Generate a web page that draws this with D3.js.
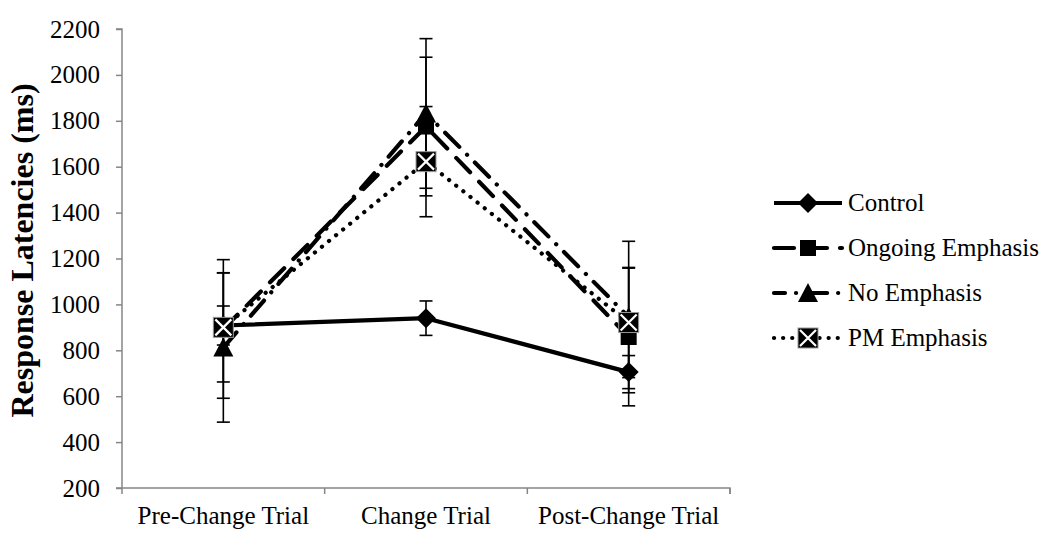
<!DOCTYPE html>
<html>
<head>
<meta charset="UTF-8">
<title>response latencies</title>
<script src="https://cdn.jsdelivr.net/npm/d3@7"></script>
<style>
  body { margin: 0; background: #fff; }
  text { font-family: "Liberation Serif", "Times New Roman", serif; }
</style>
</head>
<body>
<div id="chart"></div>
<script>
const categories = ["Pre-Change Trial", "Change Trial", "Post-Change Trial"];
const seriesNames = ["Control", "Ongoing Emphasis", "No Emphasis", "PM Emphasis"];
const control = [908, 940, 705];
const controlErr = [85, 75, 72];
const ongoing = [893, 1775, 858];
const ongoingErr = [302, 302, 300];
const noEmphasis = [812, 1832, 945];
const noEmphasisErr = [325, 326, 330];
const pmEmphasis = [900, 1622, 921];
const pmEmphasisErr = [238, 240, 240];
const yTicks = [200, 400, 600, 800, 1000, 1200, 1400, 1600, 1800, 2000, 2200];

const width = 1057, height = 533;
const plotLeft = 122, plotRight = 730, plotTop = 29, plotBottom = 488;
const fontSize = "25px";

const svg = d3.select("#chart").append("svg")
  .attr("width", width).attr("height", height);

const x = d3.scaleBand().domain(categories).range([plotLeft, plotRight]).padding(0);
const cx = d => x(d) + x.bandwidth() / 2;
const y = d3.scaleLinear().domain([200, 2200]).range([plotBottom, plotTop]);

// axes
const yAxis = svg.append("g")
  .attr("transform", "translate(" + plotLeft + ",0)")
  .call(d3.axisLeft(y).tickValues(yTicks).tickSize(6).tickPadding(16).tickFormat(d3.format("d")));
const xAxis = svg.append("g")
  .attr("transform", "translate(0," + plotBottom + ")")
  .call(d3.axisBottom(x).tickSize(0).tickPadding(18));
// category boundary ticks
xAxis.selectAll(".bound")
  .data(d3.range(categories.length + 1))
  .join("line")
  .attr("class", "bound")
  .attr("x1", i => plotLeft + i * x.bandwidth())
  .attr("x2", i => plotLeft + i * x.bandwidth())
  .attr("y1", 0).attr("y2", 6);
[yAxis, xAxis].forEach(g => {
  g.selectAll(".domain").attr("stroke", "#868686").attr("stroke-width", 1.5);
  g.selectAll("line").attr("stroke", "#868686").attr("stroke-width", 1.5);
  g.selectAll("text").attr("font-size", fontSize).attr("fill", "#000")
    .attr("font-family", "Liberation Serif, Times New Roman, serif");
});
yAxis.select(".domain").attr("d", "M-6," + plotTop + "H0V" + plotBottom + "H-6");
xAxis.select(".domain").attr("d", "M" + plotLeft + ",0H" + plotRight + "V6");

svg.append("text")
  .attr("transform", "translate(33," + ((plotTop + plotBottom) / 2 - 8) + ") rotate(-90)")
  .attr("text-anchor", "middle")
  .attr("font-size", "32px")
  .attr("font-weight", "bold")
  .text("Response Latencies (ms)");

const series = [
  { name: seriesNames[0], vals: control, err: controlErr, dash: null, mark: "diamond", legOff: 0 },
  { name: seriesNames[1], vals: ongoing, err: ongoingErr, dash: "20 13", mark: "square", legOff: 0 },
  { name: seriesNames[2], vals: noEmphasis, err: noEmphasisErr, dash: "20 11 0.1 11", mark: "triangle", legOff: 9 },
  { name: seriesNames[3], vals: pmEmphasis, err: pmEmphasisErr, dash: "0.1 9", mark: "xbox", legOff: 0 }
];

// error bars
series.forEach(s => {
  const g = svg.append("g");
  s.vals.forEach((v, i) => {
    const px = cx(categories[i]);
    const hi = y(v + s.err[i]), lo = y(v - s.err[i]);
    g.append("line").attr("x1", px).attr("x2", px).attr("y1", hi).attr("y2", lo)
      .attr("stroke", "#000").attr("stroke-width", 1.6);
    [hi, lo].forEach(yy => g.append("line")
      .attr("x1", px - 6.5).attr("x2", px + 6.5).attr("y1", yy).attr("y2", yy)
      .attr("stroke", "#000").attr("stroke-width", 1.6));
  });
});

const line = d3.line().x((d, i) => cx(categories[i])).y(d => y(d));

function drawMarker(g, type, px, py) {
  if (type === "diamond") {
    g.append("path").attr("d", `M${px},${py - 10}L${px + 10},${py}L${px},${py + 10}L${px - 10},${py}Z`)
      .attr("fill", "#000");
  } else if (type === "square") {
    g.append("rect").attr("x", px - 8).attr("y", py - 8).attr("width", 16).attr("height", 16)
      .attr("fill", "#000");
  } else if (type === "triangle") {
    g.append("path").attr("d", `M${px},${py - 10}L${px + 10},${py + 9}L${px - 10},${py + 9}Z`)
      .attr("fill", "#000");
  } else {
    g.append("rect").attr("x", px - 10).attr("y", py - 10).attr("width", 20).attr("height", 20)
      .attr("fill", "#000").attr("stroke", "#999").attr("stroke-width", 1);
    g.append("path").attr("d", `M${px - 8},${py - 8}L${px + 8},${py + 8}M${px + 8},${py - 8}L${px - 8},${py + 8}`)
      .attr("stroke", "#fff").attr("stroke-width", 2.2);
  }
}

series.forEach(s => {
  svg.append("path").datum(s.vals)
    .attr("d", line)
    .attr("fill", "none")
    .attr("stroke", "#000")
    .attr("stroke-width", 4.2)
    .attr("stroke-linecap", s.dash ? "round" : "butt")
    .attr("stroke-linejoin", "round")
    .attr("stroke-dasharray", s.dash);
});
series.forEach(s => {
  const g = svg.append("g");
  s.vals.forEach((v, i) => drawMarker(g, s.mark, cx(categories[i]), y(v)));
});

// legend
const legend = svg.append("g");
series.forEach((s, i) => {
  const ly = 203 + i * 45;
  legend.append("line").attr("x1", 774).attr("x2", 842).attr("y1", ly).attr("y2", ly)
    .attr("stroke", "#000").attr("stroke-width", 4.2)
    .attr("stroke-linecap", s.dash ? "round" : "butt")
    .attr("stroke-dasharray", s.dash)
    .attr("stroke-dashoffset", s.legOff);
  drawMarker(legend, s.mark, 808, ly);
  legend.append("text").attr("x", 848).attr("y", ly + 8)
    .attr("font-size", fontSize).text(s.name);
});
</script>
</body>
</html>
